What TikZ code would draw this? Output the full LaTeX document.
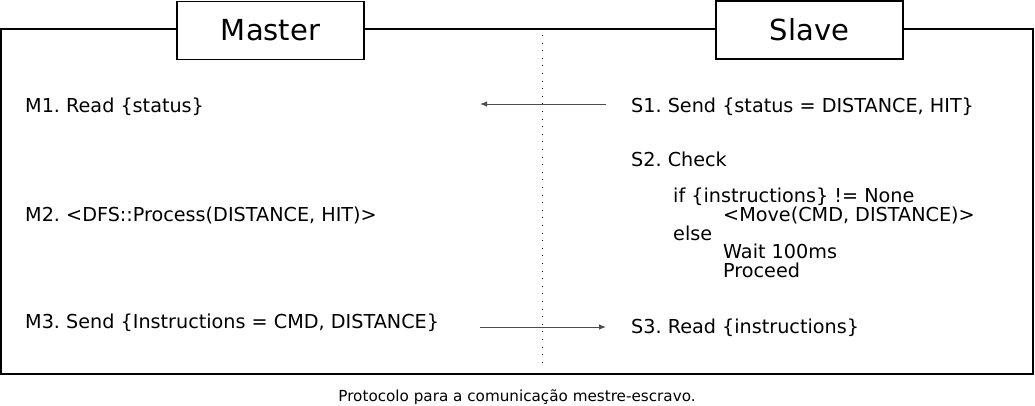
\documentclass[tikz,border=0pt]{standalone}
\usepackage{fontspec}
\setmainfont{DejaVu Sans}
\usepackage{tikz}
\usetikzlibrary{positioning,calc,arrows.meta}
\frenchspacing

\begin{document}
\begin{tikzpicture}[x=1pt, y=-1pt,
    head/.style={draw, line width=1.5pt, fill=white, minimum width=187pt, minimum height=58pt, font=\fontsize{29}{34}\selectfont},
    txt/.style={anchor=base west, inner sep=0pt, font=\fontsize{19.2}{19}\selectfont},
    msg/.style={draw=black!70, line width=1pt, -{Latex[length=7pt,width=5.5pt]}}]
    \useasboundingbox (0,0) rectangle (1035,405);

    % frame and divider
    \draw[line width=1.5pt] (1,29) rectangle (1033,374);
    \draw[dash pattern=on 0.8pt off 6.8pt] (542,35) -- (542,367);

    % headers
    \node[head] (master) at (270.5,30.5) {Master};
    \node[head] (slave) at (809.5,30) {Slave};

    % master side
    \node[txt] (m1) at (25,112) {M1. Read \{status\}};
    \node[txt] (m2) at (25,221) {M2. <DFS::Process(DISTANCE, HIT)>};
    \node[txt] (m3) at (25,328) {M3. Send \{Instructions = CMD, DISTANCE\}};

    % slave side
    \node[txt] (s1) at (631,112) {S1. Send \{status = DISTANCE, HIT\}};
    \node[txt] (s2) at (631,166) {S2. Check};
    \node[txt] (sif) at (673,202) {if \{instructions\} != None};
    \node[txt] (smove) at (723,221) {<Move(CMD, DISTANCE)>};
    \node[txt] (selse) at (673,240) {else};
    \node[txt] (swait) at (723,258) {Wait 100ms};
    \node[txt] (sgo) at (723,277) {Proceed};
    \node[txt] (s3) at (631,333) {S3. Read \{instructions\}};

    % messages
    \coordinate (s1out) at (606,104);
    \coordinate (m1in) at (480,104);
    \coordinate (m3out) at (480,327);
    \coordinate (s3in) at (606,327);
    \draw[msg] (s1out) -- (m1in);
    \draw[msg] (m3out) -- (s3in);

    % caption
    \node[anchor=base, inner sep=0pt, font=\fontsize{15.2}{18}\selectfont] (cap) at (517,401) {Protocolo para a comunicação mestre-escravo.};
\end{tikzpicture}
\end{document}
